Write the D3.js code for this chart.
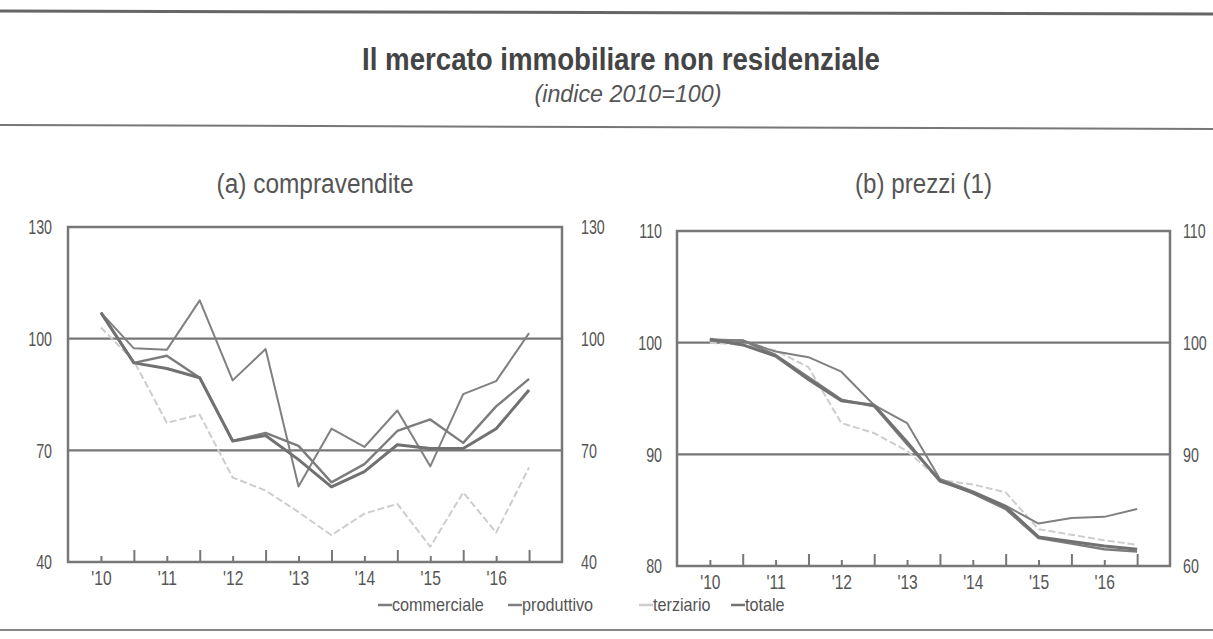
<!DOCTYPE html>
<html>
<head>
<meta charset="utf-8">
<script src="https://cdn.jsdelivr.net/npm/d3@7"></script>
<style>
  body { margin: 0; background: #fff; }
  svg { display: block; font-family: "Liberation Sans Narrow", "Arial Narrow", "Liberation Sans", sans-serif; }
  .tick text { fill: #555; }
</style>
</head>
<body>
<div class="container"></div>
<script>
// half-year periods, 2010 H1 .. 2016 H2
const periods = [0,1,2,3,4,5,6,7,8,9,10,11,12,13]
const periodLabels = ["'10","","'11","","'12","","'13","","'14","","'15","","'16",""]
const seriesNames = ["commerciale","produttivo","terziario","totale"]

// (a) compravendite
const salesCommerciale = [107, 93.5, 95.4, 89.5, 72.5, 74.7, 71.2, 61.4, 66.3, 75.2, 78.3, 72.0, 81.8, 89.2]
const salesProduttivo  = [107, 97.4, 97.0, 110.3, 88.8, 97.2, 60.3, 75.8, 70.9, 80.7, 65.7, 85.1, 88.6, 101.5]
const salesTerziario   = [103, 94, 77.4, 79.6, 62.7, 59.2, 53.4, 47.2, 53.0, 55.6, 44.1, 58.7, 47.9, 65.4]
const salesTotale      = [107, 93.5, 92.0, 89.5, 72.5, 74.0, 67.5, 60.2, 64.3, 71.5, 70.5, 70.5, 75.8, 86.2]
const salesTicks = [40, 70, 100, 130]
const salesGrid = [70, 100]

// (b) prezzi
const priceCommerciale = [100.2, 100.2, 98.9, 96.9, 94.9, 94.3, 90.9, 87.7, 86.5, 85.1, 82.5, 82.0, 81.5, 81.3]
const priceProduttivo  = [100.3, 100.2, 99.2, 98.7, 97.4, 94.4, 92.8, 87.8, 86.7, 85.4, 83.8, 84.3, 84.4, 85.1]
const priceTerziario   = [100.0, 99.8, 99.3, 97.8, 92.8, 91.9, 90.3, 87.7, 87.3, 86.6, 83.3, 82.8, 82.3, 81.9]
const priceTotale      = [100.3, 99.8, 98.8, 96.7, 94.8, 94.4, 91.1, 87.6, 86.6, 85.3, 82.6, 82.2, 81.8, 81.5]
const priceTicks = [80, 90, 100, 110]
const priceTicksRight = ["60", "90", "100", "110"]   // as printed in the source
const priceGrid = [90, 100]

const W = 1213, H = 639

const svg = d3.select('.container').append('svg')
    .attr('width', W)
    .attr('height', H)

// squeeze a text horizontally to mimic the narrow face of the original
function narrow(sel, f) {
    sel.each(function () {
        const t = d3.select(this)
        const x = +t.attr('x') || 0
        t.attr('x', x / f).attr('transform', `scale(${f},1)`)
    })
}

// rules
svg.append('line').attr('x1', 0).attr('x2', W).attr('y1', 11).attr('y2', 14)
    .attr('stroke', '#666').attr('stroke-width', 3)
svg.append('line').attr('x1', 0).attr('x2', W).attr('y1', 125).attr('y2', 129)
    .attr('stroke', '#777').attr('stroke-width', 2)
svg.append('line').attr('x1', 0).attr('x2', W).attr('y1', 630).attr('y2', 630)
    .attr('stroke', '#888').attr('stroke-width', 2)

svg.append('text')
    .attr('x', 621).attr('y', 70)
    .attr('text-anchor', 'middle')
    .attr('textLength', 518).attr('lengthAdjust', 'spacingAndGlyphs')
    .style('font-size', '31px').style('font-weight', 'bold').style('fill', '#444')
    .text('Il mercato immobiliare non residenziale')
svg.append('text')
    .attr('x', 628).attr('y', 102)
    .attr('text-anchor', 'middle')
    .attr('textLength', 187).attr('lengthAdjust', 'spacingAndGlyphs')
    .style('font-size', '23px').style('font-style', 'italic').style('fill', '#555')
    .text('(indice 2010=100)')

function drawPanel(cfg) {
    const x = d3.scaleLinear().domain([-1, 14]).range([cfg.left, cfg.right])
    const y = d3.scaleLinear().domain(cfg.domain).range([cfg.bottom, cfg.top])
    const g = svg.append('g')

    g.append('text')
        .attr('x', (cfg.left + cfg.right) / 2).attr('y', 193)
        .attr('text-anchor', 'middle')
        .attr('textLength', cfg.titleLength).attr('lengthAdjust', 'spacingAndGlyphs')
        .style('font-size', '27px').style('fill', '#555')
        .text(cfg.title)

    // gridlines
    g.selectAll('.grid').data(cfg.grid).enter().append('line')
        .attr('x1', cfg.left).attr('x2', cfg.right)
        .attr('y1', d => y(d)).attr('y2', d => y(d))
        .attr('stroke', '#777').attr('stroke-width', 2.2)

    // x axis, ticks pointing inward, longer between years
    const xAxis = d3.axisBottom(x)
        .tickValues(periods)
        .tickSizeInner(-6)
        .tickSizeOuter(0)
        .tickPadding(14)
        .tickFormat(i => periodLabels[i])
    const xg = g.append('g')
        .attr('transform', `translate(0, ${cfg.bottom})`)
        .call(xAxis)
    xg.select('.domain').remove()
    xg.selectAll('.tick line')
        .attr('stroke', '#777').attr('stroke-width', 2)
        .attr('y2', i => i % 2 ? -12 : -6)
    xg.selectAll('.tick text').style('font-size', '20px').attr('dy', '0.45em')
        .call(narrow, 0.78)

    // y axes
    const yLeft = d3.axisLeft(y).tickValues(cfg.ticks).tickSize(0).tickPadding(cfg.padL)
    const yRight = d3.axisRight(y).tickValues(cfg.ticks).tickSize(0).tickPadding(cfg.padR)
        .tickFormat((d, i) => cfg.rightLabels ? cfg.rightLabels[i] : d)
    const yl = g.append('g').attr('transform', `translate(${cfg.left},0)`).call(yLeft)
    const yr = g.append('g').attr('transform', `translate(${cfg.right},0)`).call(yRight)
    yl.select('.domain').remove()
    yr.select('.domain').remove()
    yl.selectAll('.tick text').style('font-size', '21px').call(narrow, 0.68)
    yr.selectAll('.tick text').style('font-size', '21px').call(narrow, 0.68)

    // frame
    g.append('rect')
        .attr('x', cfg.left).attr('y', cfg.top)
        .attr('width', cfg.right - cfg.left).attr('height', cfg.bottom - cfg.top)
        .attr('fill', 'none').attr('stroke', '#777').attr('stroke-width', 2.5)

    const line = d3.line().x((d, i) => x(periods[i])).y(d => y(d))

    cfg.series.forEach(s => {
        g.append('path')
            .datum(s.values)
            .attr('d', line)
            .attr('fill', 'none')
            .attr('stroke', s.color)
            .attr('stroke-width', s.width)
            .attr('stroke-dasharray', s.dash || null)
            .attr('stroke-linejoin', 'round')
    })
}

const styles = {
    commerciale: { color: '#7c7c7c', width: 2.4 },
    produttivo: { color: '#808080', width: 2 },
    terziario: { color: '#cdcdcd', width: 2, dash: '7,3' },
    totale: { color: '#717171', width: 3 }
}

drawPanel({
    title: '(a) compravendite', titleLength: 197,
    left: 68, right: 562, top: 227, bottom: 562,
    domain: [40, 130], ticks: salesTicks, grid: salesGrid,
    padL: 16, padR: 19,
    series: [
        Object.assign({ values: salesTerziario }, styles.terziario),
        Object.assign({ values: salesProduttivo }, styles.produttivo),
        Object.assign({ values: salesCommerciale }, styles.commerciale),
        Object.assign({ values: salesTotale }, styles.totale)
    ]
})

drawPanel({
    title: '(b) prezzi (1)', titleLength: 137,
    left: 677, right: 1170, top: 231, bottom: 566,
    domain: [80, 110], ticks: priceTicks, grid: priceGrid,
    padL: 15, padR: 13, rightLabels: priceTicksRight,
    series: [
        Object.assign({ values: priceTerziario }, styles.terziario),
        Object.assign({ values: priceProduttivo }, styles.produttivo),
        Object.assign({ values: priceCommerciale }, styles.commerciale),
        Object.assign({ values: priceTotale }, styles.totale)
    ]
})

// legend
const legendX = [378, 508, 639, 731]
const legend = svg.append('g').selectAll('g')
    .data(seriesNames)
    .enter()
    .append('g')
    .attr('transform', (d, i) => `translate(${legendX[i]}, 611)`)
legend.append('line')
    .attr('x1', 0).attr('x2', 14).attr('y1', -6).attr('y2', -6)
    .attr('stroke', d => styles[d].color).attr('stroke-width', 2.5)
legend.append('text')
    .attr('x', 14)
    .style('font-size', '18px').style('fill', '#555')
    .text(d => d)
    .call(narrow, 0.9)
</script>
</body>
</html>
